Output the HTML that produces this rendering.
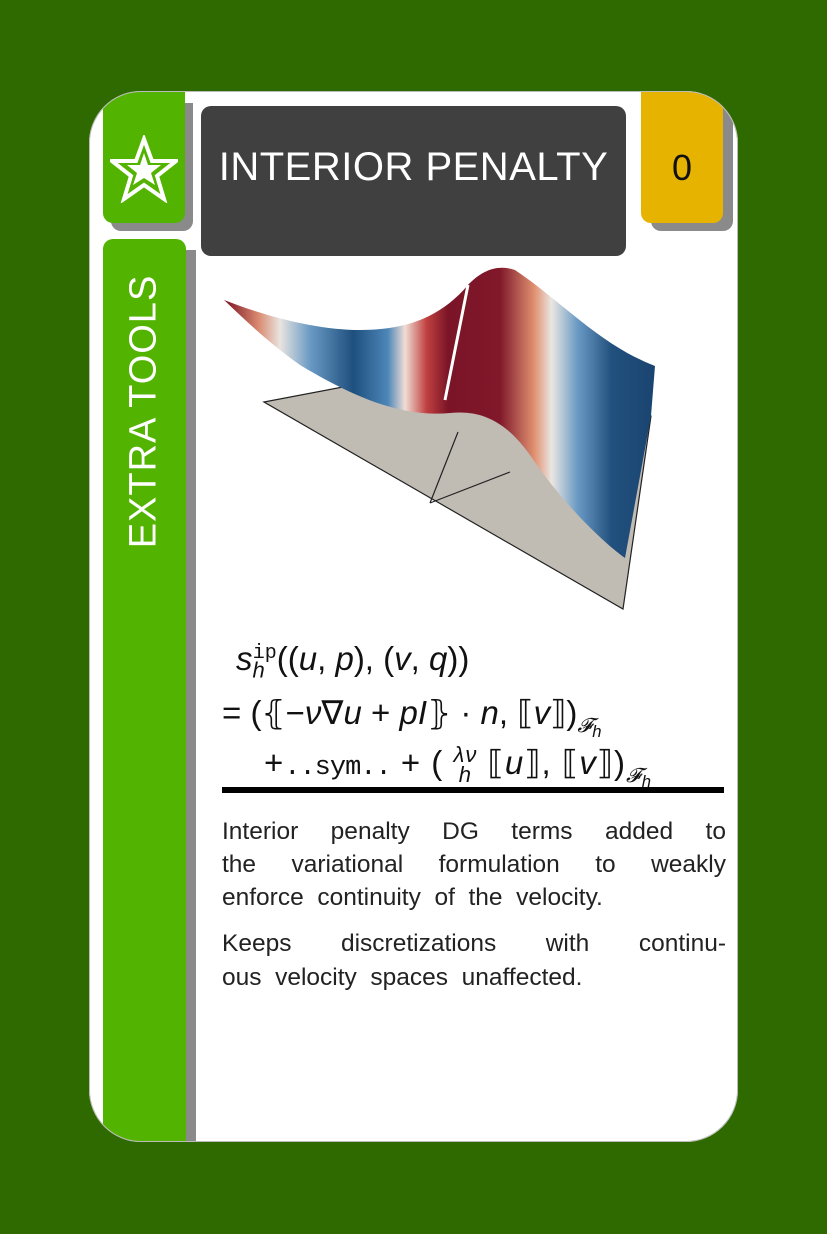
<!DOCTYPE html>
<html><head><meta charset="utf-8"><style>
body{margin:0;width:827px;height:1234px;background:#2e6a00;position:relative;overflow:hidden;font-family:"Liberation Sans",sans-serif}
div{position:absolute}
.math{font-family:"Liberation Sans",sans-serif;font-size:33px;color:#111;white-space:nowrap}
.math i{font-style:italic}
.mono{font-family:"Liberation Mono",monospace;font-size:27px}
.ln{font-size:24.5px;color:#222;left:222px;width:504px;height:34px;text-align:justify;text-align-last:justify;white-space:nowrap}
.ll{text-align-last:left}
</style></head><body>
<div style="left:0;top:0;width:827px;height:1234px;clip-path:inset(91px 89px 92px 89px round 52px)">
<div style="left:89px;top:91px;width:649px;height:1051px;background:#fff"></div>
<div style="left:111px;top:103px;width:82px;height:128px;background:#8a8a8a;border-radius:0 0 10px 10px"></div>
<div style="left:103px;top:80px;width:82px;height:143px;background:#52b300;border-radius:0 0 10px 10px"></div>
<div style="left:651px;top:103px;width:82px;height:128px;background:#8a8a8a;border-radius:0 0 10px 10px"></div>
<div style="left:641px;top:80px;width:82px;height:143px;background:#e6b400;border-radius:0 0 10px 10px"></div>
<div style="left:186px;top:250px;width:10px;height:900px;background:#8a8a8a"></div>
<div style="left:103px;top:239px;width:83px;height:910px;background:#52b300;border-radius:10px 10px 0 0"></div>
</div>
<div style="left:89px;top:91px;width:647px;height:1049px;border:1.5px solid #bbb;border-radius:52px"></div>
<svg style="position:absolute;left:110px;top:135px" width="68" height="68" viewBox="0 0 68 68">
<polygon points="34,4 42,26 66,26 47,41 54,64 34,50 14,64 21,41 2,26 26,26" fill="none" stroke="#fff" stroke-width="4"/>
<polygon points="34,18 38,30 51,30 41,38 45,50 34,43 23,50 27,38 17,30 30,30" fill="#fff"/>
</svg>
<div style="left:641px;top:147px;width:82px;text-align:center;font-size:36px;color:#111">0</div>
<div style="left:201px;top:106px;width:425px;height:150px;background:#404040;border-radius:10px"></div>
<div style="left:201px;top:145px;width:425px;text-align:center;font-size:40px;color:#fff;letter-spacing:0.5px">INTERIOR PENALTY</div>
<div style="left:-6px;top:390px;width:300px;text-align:center;font-size:38px;color:#fff;transform:rotate(-90deg);letter-spacing:1px">EXTRA TOOLS</div>

<svg style="position:absolute;left:0;top:0" width="827" height="700">
<defs>
<linearGradient id="g" x1="224" y1="0" x2="655" y2="0" gradientUnits="userSpaceOnUse">
<stop offset="0" stop-color="#7a1020"/>
<stop offset="0.08" stop-color="#d98a70"/>
<stop offset="0.13" stop-color="#e8e4e0"/>
<stop offset="0.2" stop-color="#6a9ac4"/>
<stop offset="0.3" stop-color="#1e4f7e"/>
<stop offset="0.38" stop-color="#4d86b8"/>
<stop offset="0.42" stop-color="#f0ddd4"/>
<stop offset="0.47" stop-color="#c04040"/>
<stop offset="0.52" stop-color="#7a1426"/>
<stop offset="0.64" stop-color="#80182a"/>
<stop offset="0.72" stop-color="#e09070"/>
<stop offset="0.76" stop-color="#eae6e2"/>
<stop offset="0.82" stop-color="#6a9ac4"/>
<stop offset="0.9" stop-color="#22507e"/>
<stop offset="1" stop-color="#1a4470"/>
</linearGradient>
</defs>
<polygon points="264,402 485,360 651,416 623,609" fill="#c0bcb4" stroke="#222" stroke-width="1.2"/>
<path d="M430,503 L458,432 M430,503 L510,472" stroke="#222" stroke-width="1.2" fill="none"/>
<path d="M224,300 C270,318 320,330 360,330 C405,330 440,318 468,285 C482,270 498,264 515,270 C560,300 600,345 655,366 L651,416 L625,558 C600,540 560,500 530,455 C505,420 480,410 450,413 C400,418 350,395 300,365 C265,340 240,315 224,300 Z" fill="url(#g)"/>
<path d="M468,285 L445,400" stroke="#fff" stroke-width="3"/>
</svg>

<div class="math" style="left:236px;top:640px"><i>s</i><sub style="font-size:22px"><i>h</i></sub><sup class="mono" style="font-size:20px;margin-left:-12px">ip</sup>((<i>u</i>, <i>p</i>), (<i>v</i>, <i>q</i>))</div>
<div class="math" style="left:222px;top:693px">= (⦃−<i>ν</i>∇<i>u</i> + <i>pI</i>⦄ · <i>n</i>, ⟦<i>v</i>⟧)<sub style="font-size:20px"><i>𝓕<sub>h</sub></i></sub></div>
<div class="math" style="left:264px;top:743px;letter-spacing:1px">+<span class="mono" style="letter-spacing:-1px">..sym..</span> + ( <span style="display:inline-block;font-size:22px;text-align:center;vertical-align:middle;line-height:20px"><i>λν</i><br><i>h</i></span> ⟦<i>u</i>⟧, ⟦<i>v</i>⟧)<sub style="font-size:20px"><i>𝓕<sub>h</sub></i></sub></div>
<div style="left:222px;top:787px;width:502px;height:6px;background:#000"></div>
<div class="ln" style="top:818px">Interior penalty DG terms added to</div>
<div class="ln" style="top:851px">the variational formulation to weakly</div>
<div class="ln ll" style="top:884px">enforce&nbsp; continuity&nbsp; of&nbsp; the&nbsp; velocity.</div>
<div class="ln" style="top:930px">Keeps discretizations with continu-</div>
<div class="ln ll" style="top:964px">ous&nbsp; velocity&nbsp; spaces&nbsp; unaffected.</div>
</body></html>
